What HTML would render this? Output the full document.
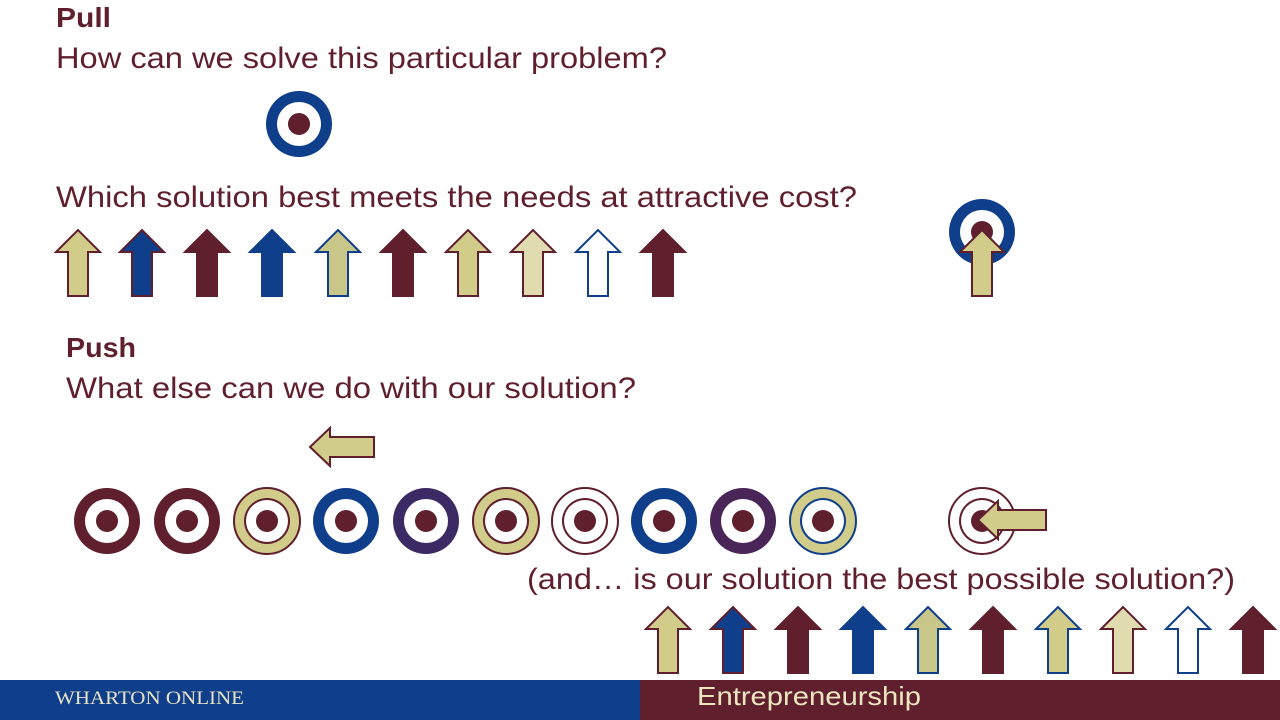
<!DOCTYPE html>
<html><head><meta charset="utf-8"><style>
body{margin:0;width:1280px;height:720px;overflow:hidden;background:#fff;font-family:"Liberation Sans",sans-serif;}
svg{position:absolute;left:0;top:0}
</style></head><body>
<svg width="1280" height="720" viewBox="0 0 1280 720">
<defs>
<g id="au"><path d="M-22,22 L0,0 L22,22 L10,22 L10,66 L-10,66 L-10,22 Z" stroke-width="2"/></g>
<g id="tg"><circle r="33"/><circle r="22" fill="#fff"/><circle r="11" fill="#5f1f2c"/></g>
</defs>
<g fill="#5f1f2c" font-family="Liberation Sans, sans-serif">
<text x="56" y="27" font-size="28" font-weight="bold" textLength="55" lengthAdjust="spacingAndGlyphs">Pull</text>
<text x="56" y="68" font-size="30" textLength="611" lengthAdjust="spacingAndGlyphs">How can we solve this particular problem?</text>
<text x="56" y="207" font-size="30" textLength="801" lengthAdjust="spacingAndGlyphs">Which solution best meets the needs at attractive cost?</text>
<text x="66" y="357" font-size="28" font-weight="bold" textLength="70" lengthAdjust="spacingAndGlyphs">Push</text>
<text x="66" y="398" font-size="30" textLength="570" lengthAdjust="spacingAndGlyphs">What else can we do with our solution?</text>
<text x="527" y="589" font-size="30" textLength="708" lengthAdjust="spacingAndGlyphs">(and… is our solution the best possible solution?)</text>
</g>
<g transform="translate(299,124)" fill="#0f3f8a"><use href="#tg"/></g>
<g stroke="#5f1f2c">
<use href="#au" x="78" y="230" fill="#d1cc8a"/>
<use href="#au" x="142" y="230" fill="#0f3f8a"/>
<use href="#au" x="207" y="230" fill="#5f1f2c"/>
<use href="#au" x="272" y="230" fill="#0f3f8a" stroke="#0f3f8a"/>
<use href="#au" x="338" y="230" fill="#c9c689" stroke="#0f3f8a"/>
<use href="#au" x="403" y="230" fill="#5f1f2c"/>
<use href="#au" x="468" y="230" fill="#d1cc8a"/>
<use href="#au" x="533" y="230" fill="#e0dcb0"/>
<use href="#au" x="598" y="230" fill="#fff" stroke="#0f3f8a"/>
<use href="#au" x="663" y="230" fill="#5f1f2c"/>
</g>
<g transform="translate(982,232)" fill="#0f3f8a"><use href="#tg"/></g>
<use href="#au" x="982" y="230" fill="#d1cc8a" stroke="#5f1f2c"/>
<path d="M310,447 L330,428 L330,437 L374,437 L374,457 L330,457 L330,466 Z" fill="#d1cc8a" stroke="#5f1f2c" stroke-width="2"/>
<g transform="translate(0,521)">
<use href="#tg" x="107" fill="#5f1f2c"/>
<use href="#tg" x="187" fill="#5f1f2c"/>
<g transform="translate(267,0)"><circle r="33" fill="#d1cc8a" stroke="#5f1f2c" stroke-width="2"/><circle r="23" fill="#5f1f2c"/><circle r="21" fill="#fff"/><circle r="11" fill="#5f1f2c"/></g>
<use href="#tg" x="346" fill="#0f3f8a"/>
<use href="#tg" x="426" fill="#3b2a63"/>
<g transform="translate(506,0)"><circle r="33" fill="#d1cc8a" stroke="#5f1f2c" stroke-width="2"/><circle r="23" fill="#5f1f2c"/><circle r="21" fill="#fff"/><circle r="11" fill="#5f1f2c"/></g>
<g transform="translate(585,0)"><circle r="33" fill="#fff" stroke="#5f1f2c" stroke-width="2"/><circle r="23" fill="#5f1f2c"/><circle r="21" fill="#fff"/><circle r="11" fill="#5f1f2c"/></g>
<use href="#tg" x="664" fill="#0f3f8a"/>
<use href="#tg" x="743" fill="#4a2558"/>
<g transform="translate(823,0)"><circle r="33" fill="#d1cc8a" stroke="#0f3f8a" stroke-width="2"/><circle r="23" fill="#0f3f8a"/><circle r="21" fill="#fff"/><circle r="11" fill="#5f1f2c"/></g>
<g transform="translate(982,0)"><circle r="33" fill="#fff" stroke="#5f1f2c" stroke-width="2"/><circle r="23" fill="#5f1f2c"/><circle r="21" fill="#fff"/><circle r="11" fill="#5f1f2c"/></g>
</g>
<path d="M978,520 L998,501 L998,510 L1046,510 L1046,530 L998,530 L998,539 Z" fill="#d1cc8a" stroke="#5f1f2c" stroke-width="2"/>
<g stroke="#5f1f2c">
<use href="#au" x="668" y="607" fill="#d1cc8a"/>
<use href="#au" x="733" y="607" fill="#0f3f8a"/>
<use href="#au" x="798" y="607" fill="#5f1f2c"/>
<use href="#au" x="863" y="607" fill="#0f3f8a" stroke="#0f3f8a"/>
<use href="#au" x="928" y="607" fill="#c9c689" stroke="#0f3f8a"/>
<use href="#au" x="993" y="607" fill="#5f1f2c"/>
<use href="#au" x="1058" y="607" fill="#d1cc8a" stroke="#0f3f8a"/>
<use href="#au" x="1123" y="607" fill="#e0dcb0"/>
<use href="#au" x="1188" y="607" fill="#fff" stroke="#0f3f8a"/>
<use href="#au" x="1253" y="607" fill="#5f1f2c"/>
</g>
<rect x="0" y="680" width="640" height="40" fill="#0f3f8a"/>
<rect x="640" y="680" width="640" height="40" fill="#5f1f2c"/>
<text x="55" y="704" font-family="Liberation Serif, serif" font-size="19" fill="#e8e4c8" textLength="189" lengthAdjust="spacingAndGlyphs">WHARTON ONLINE</text>
<text x="697" y="705" font-family="Liberation Sans, sans-serif" font-size="26" fill="#ece6c0" textLength="224" lengthAdjust="spacingAndGlyphs">Entrepreneurship</text>
</svg>
</body></html>
